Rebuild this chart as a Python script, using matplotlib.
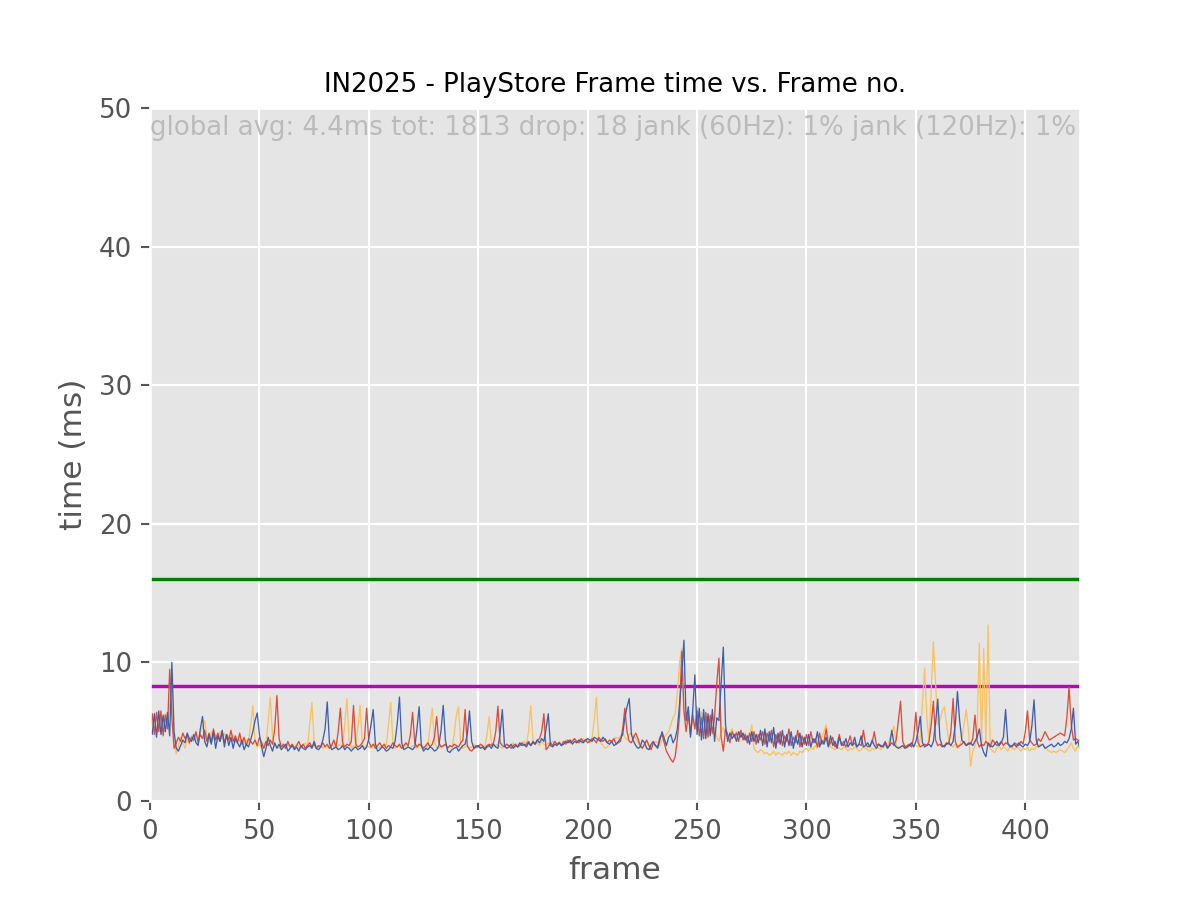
import matplotlib
matplotlib.use("Agg")
import matplotlib.pyplot as plt
import numpy as np

plt.style.use("ggplot")

title = "IN2025 - PlayStore Frame time vs. Frame no."
summary = "global avg: 4.4ms tot: 1813 drop: 18 jank (60Hz): 1% jank (120Hz): 1%"
target_60 = 16.0
target_120 = 8.33

# frame times (ms), one value per frame
red_ms = [
    5.0, 6.3, 4.8, 6.4, 5.0, 6.5, 4.7, 6.2, 5.2, 9.5, 6.0, 3.8, 4.2, 4.6, 4.3, 4.9, 4.5, 4.8, 4.2, 4.6,
    4.4, 5.0, 4.2, 4.8, 4.5, 5.1, 4.3, 4.9, 4.2, 5.2, 4.4, 4.9, 4.3, 5.0, 4.2, 4.8, 4.4, 5.1, 4.3, 4.7,
    4.2, 4.9, 4.1, 4.6, 4.0, 4.5, 4.3, 4.1, 4.4, 4.0, 4.6, 4.2, 3.8, 4.3, 4.0, 4.4, 4.1, 5.2, 7.6, 4.5,
    3.9, 4.1, 3.8, 4.3, 3.9, 4.1, 3.8, 4.0, 4.3, 3.9, 4.1, 3.8, 4.0, 4.2, 3.9, 4.1, 3.8, 4.0, 3.9, 4.2,
    3.9, 4.1, 3.8, 4.0, 4.4, 3.9, 5.0, 6.7, 4.2, 3.9, 4.1, 4.0, 4.3, 6.9, 4.1, 3.9, 4.0, 4.2, 4.5, 6.7,
    4.3, 3.9, 4.1, 3.8, 4.0, 4.2, 3.9, 4.1, 3.8, 4.0, 3.9, 4.2, 4.0, 3.9, 4.1, 3.8, 4.0, 4.2, 4.0, 4.8,
    6.4, 4.2, 3.9, 4.1, 4.0, 3.8, 4.0, 4.2, 3.9, 4.1, 4.6, 6.1, 4.2, 3.9, 4.0, 4.1, 3.8, 4.0, 3.9, 4.1,
    4.0, 3.9, 4.2, 4.4, 6.6, 4.0, 3.7, 3.6, 3.8, 4.0, 3.9, 4.1, 4.0, 3.8, 4.0, 4.1, 4.0, 4.2, 5.0, 6.85,
    4.2, 4.0, 3.9, 4.1, 4.0, 3.8, 4.0, 4.1, 3.9, 4.0, 4.2, 4.0, 4.1, 4.3, 4.0, 4.2, 4.1, 4.4, 4.5, 5.0,
    6.3, 3.7, 3.9, 4.2, 4.0, 4.3, 4.1, 4.2, 4.0, 4.3, 4.1, 4.4, 4.2, 4.3, 4.5, 4.3, 4.2, 4.5, 4.3, 4.4,
    4.2, 4.3, 4.5, 4.4, 4.2, 4.6, 4.4, 4.3, 4.5, 4.2, 4.4, 4.3, 4.5, 4.1, 4.2, 4.3, 5.2, 6.7, 5.0, 4.3,
    4.2, 4.6, 4.9, 4.5, 4.0, 3.8, 4.1, 4.4, 4.0, 3.7, 4.2, 4.0, 3.9, 4.6, 4.8, 4.2, 3.6, 3.3, 3.0, 2.8,
    3.2, 4.5, 6.2, 10.8, 6.5, 5.0, 6.3, 4.8, 6.2, 5.2, 6.5, 4.7, 6.0, 4.5, 6.4, 4.6, 6.2, 4.9, 6.0, 8.5,
    10.3, 4.6, 3.6, 5.2, 4.8, 4.2, 5.0, 4.6, 4.9, 4.3, 5.1, 4.4, 4.8, 4.2, 4.9, 4.3, 5.0, 4.1, 4.8, 4.4,
    5.0, 4.1, 4.9, 4.3, 5.1, 3.9, 4.8, 4.2, 5.0, 4.0, 4.7, 4.3, 5.2, 4.0, 4.6, 4.2, 5.1, 3.9, 4.7, 4.1,
    4.8, 4.0, 5.0, 4.2, 4.5, 3.9, 4.9, 4.1, 4.3, 5.2, 4.0, 4.2, 4.6, 3.9, 4.1, 4.8, 4.0, 4.3, 3.9, 4.2,
    4.7, 4.0, 4.2, 3.9, 4.1, 4.0, 5.1, 4.1, 3.9, 4.0, 4.2, 5.0, 4.0, 4.1, 3.9, 4.0, 4.3, 3.9, 4.0, 4.2,
    4.0, 4.4, 5.8, 7.2, 4.3, 3.9, 4.0, 4.1, 3.9, 4.6, 6.4, 4.2, 3.9, 4.0, 4.1, 4.0, 4.3, 5.5, 7.2, 4.4,
    4.0, 4.1, 3.9, 4.0, 4.2, 4.1, 5.0, 7.4, 4.3, 3.9, 4.0, 4.1, 4.3, 4.0, 4.2, 4.1, 4.5, 6.2, 4.3, 3.9,
    4.1, 4.0, 4.3, 4.1, 3.9, 4.4, 4.2, 4.0, 4.1, 4.3, 4.0, 4.2, 4.1, 4.0, 3.9, 4.2, 4.1, 4.0, 4.3, 4.1,
    5.0, 6.5, 4.4, 4.2, 4.0, 4.1, 4.5, 4.3, 4.6, 5.0, 4.7, 4.4, 4.5, 4.6, 4.7, 4.8, 4.9, 4.8, 4.7, 6.0,
    8.2, 5.5, 4.4, 4.5, 4.4, 4.3,
]

blue_ms = [
    5.2, 4.8, 6.3, 4.6, 6.5, 4.8, 6.2, 5.0, 6.4, 4.7, 10.0, 5.0, 3.8, 3.6, 4.0, 4.4, 4.2, 4.9, 4.5, 4.3,
    4.8, 4.2, 4.0, 5.2, 6.1, 4.3, 3.9, 4.8, 4.1, 5.0, 3.8, 4.7, 4.3, 5.1, 3.9, 4.8, 4.0, 4.6, 3.8, 4.5,
    4.2, 3.9, 4.4, 3.7, 4.1, 3.9, 4.4, 5.0, 5.8, 6.35, 4.8, 3.9, 3.2, 3.8, 4.6, 4.0, 3.6, 4.2, 3.8, 4.1,
    3.7, 3.9, 4.1, 3.6, 3.8, 4.0, 3.7, 3.9, 3.6, 4.0, 3.8, 3.7, 3.9, 4.0, 3.8, 4.3, 3.8, 3.7, 3.9, 4.4,
    5.2, 7.15, 4.2, 3.7, 3.8, 3.9, 3.7, 3.8, 4.0, 3.7, 3.9, 3.8, 3.6, 3.8, 3.9, 3.7, 3.8, 4.0, 3.7, 3.9,
    4.5, 5.5, 6.6, 4.1, 3.6, 3.7, 3.9, 3.8, 3.6, 3.7, 3.9, 3.8, 4.3, 5.6, 7.5, 4.2, 3.7, 3.8, 3.9, 3.8,
    3.7, 3.9, 5.2, 6.8, 4.0, 3.6, 3.8, 3.7, 3.9, 3.8, 3.6, 3.7, 4.0, 5.1, 6.9, 4.4, 3.6, 3.5, 3.7, 3.8,
    3.9, 3.6, 3.8, 4.0, 4.1, 4.8, 6.5, 4.3, 3.8, 3.9, 4.0, 3.8, 3.9, 3.7, 3.9, 4.0, 3.8, 4.1, 3.9, 3.8,
    4.9, 6.6, 4.0, 3.8, 3.9, 4.1, 3.8, 4.0, 3.9, 4.2, 4.0, 4.1, 3.9, 4.2, 4.0, 4.3, 4.1, 4.4, 4.2, 4.5,
    4.3, 5.2, 6.3, 4.0, 3.9, 4.1, 4.0, 4.2, 4.0, 4.1, 4.3, 4.2, 4.4, 4.1, 4.3, 4.2, 4.4, 4.3, 4.2, 4.4,
    4.5, 4.4, 4.3, 4.6, 4.5, 4.4, 4.3, 4.6, 4.4, 4.2, 4.1, 4.3, 4.0, 4.1, 4.3, 4.5, 4.8, 6.0, 6.8, 7.4,
    4.8, 4.3, 4.0, 3.8, 3.9, 4.4, 4.2, 3.8, 3.7, 4.1, 4.3, 4.0, 3.8, 4.4, 5.0, 4.5, 4.0, 4.6, 4.8, 4.2,
    4.5, 5.2, 7.0, 9.0, 11.6, 5.8, 6.8, 4.6, 6.5, 9.1, 4.8, 6.7, 4.4, 6.6, 4.5, 6.3, 4.7, 6.6, 4.3, 6.0,
    5.8, 8.5, 11.1, 5.5, 4.3, 4.9, 4.5, 4.8, 4.3, 5.0, 4.6, 4.9, 4.4, 4.7, 4.1, 5.0, 4.3, 4.8, 4.2, 5.1,
    4.0, 5.2, 3.9, 5.0, 4.2, 5.3, 3.8, 4.9, 4.1, 5.1, 3.9, 4.8, 4.0, 5.0, 3.8, 4.7, 4.1, 4.9, 3.9, 4.6,
    4.0, 4.8, 3.9, 4.5, 4.2, 5.0, 3.9, 4.4, 4.1, 4.6, 3.9, 4.7, 4.0, 4.3, 3.8, 4.6, 4.1, 4.0, 4.5, 3.9,
    4.2, 4.0, 4.6, 3.9, 4.1, 4.7, 3.9, 4.0, 4.2, 3.9, 4.4, 4.0, 3.8, 4.1, 4.0, 3.9, 4.2, 3.8, 4.0, 5.1,
    4.1, 3.9, 3.8, 3.9, 4.0, 3.8, 3.9, 4.0, 4.2, 3.9, 4.3, 5.0, 6.1, 4.2, 3.9, 4.0, 4.1, 3.9, 4.3, 5.6,
    7.35, 4.5, 4.0, 3.9, 4.1, 4.2, 4.0, 4.3, 5.5, 7.9, 5.8, 4.4, 4.2, 4.0, 4.1, 4.2, 4.0, 4.3, 4.6, 5.2,
    4.0, 3.5, 3.2, 4.2, 4.0, 3.9, 4.1, 4.3, 4.0, 4.2, 4.6, 6.6, 4.2, 3.9, 4.0, 4.1, 3.9, 4.2, 4.0, 3.9,
    4.1, 4.0, 4.3, 5.4, 7.3, 4.4, 3.9, 4.0, 4.1, 3.8, 3.9, 4.0, 4.1, 3.9, 4.0, 4.2, 4.0, 4.1, 4.3, 4.2,
    4.5, 5.2, 6.7, 4.1, 4.3, 3.8,
]

orange_ms = [
    5.5, 6.0, 5.0, 6.2, 5.3, 6.0, 5.1, 6.3, 5.4, 7.0, 9.0, 4.2, 3.4, 4.0, 4.6, 4.2, 3.8, 4.5, 4.1, 4.7,
    4.3, 4.9, 4.4, 5.0, 5.3, 5.8, 4.6, 4.2, 5.0, 4.5, 4.8, 4.3, 5.0, 4.4, 4.9, 4.5, 4.7, 4.3, 4.8, 4.2,
    4.6, 4.3, 4.5, 4.1, 4.4, 4.2, 5.5, 6.9, 4.3, 3.9, 4.1, 3.8, 4.2, 4.0, 5.8, 7.5, 4.6, 3.9, 4.0, 3.8,
    4.0, 3.9, 3.8, 4.1, 3.9, 4.0, 3.8, 4.1, 3.9, 3.8, 4.0, 4.2, 3.9, 5.6, 7.1, 4.3, 3.8, 3.9, 4.0, 3.8,
    4.0, 3.9, 3.8, 4.1, 3.9, 3.8, 4.0, 4.1, 3.9, 5.6, 7.4, 4.4, 3.8, 4.0, 3.9, 5.3, 6.9, 4.2, 3.8, 4.0,
    3.9, 3.8, 4.0, 4.1, 3.9, 3.8, 4.0, 3.9, 4.1, 5.5, 7.1, 4.3, 3.8, 3.9, 4.0, 3.8, 3.9, 4.1, 3.9, 3.8,
    4.0, 3.9, 3.8, 4.0, 4.1, 3.9, 3.8, 4.0, 5.4, 6.7, 4.2, 3.9, 3.8, 4.0, 3.9, 4.1, 3.8, 4.0, 3.9, 4.8,
    6.2, 6.8, 4.1, 3.8, 3.9, 4.0, 3.8, 3.9, 4.1, 3.8, 3.9, 4.0, 3.8, 3.9, 4.8, 6.1, 4.2, 3.9, 4.0, 4.1,
    3.9, 3.8, 4.0, 4.1, 3.9, 4.0, 4.2, 3.9, 4.1, 4.0, 4.2, 4.3, 4.1, 5.0, 6.9, 4.4, 4.1, 4.2, 4.0, 4.3,
    4.1, 4.0, 4.2, 4.1, 4.3, 4.2, 4.0, 4.3, 4.1, 4.2, 4.4, 4.3, 4.2, 4.4, 4.5, 4.3, 4.4, 4.2, 4.5, 4.3,
    4.4, 4.2, 4.5, 5.8, 7.5, 4.6, 4.2, 4.0, 3.8, 3.9, 4.1, 4.3, 4.4, 4.6, 4.5, 4.7, 4.9, 4.6, 4.4, 4.8,
    4.9, 4.7, 4.5, 4.2, 4.0, 3.9, 4.1, 4.3, 4.0, 3.8, 4.1, 4.3, 4.2, 4.0, 4.4, 4.6, 4.8, 5.0, 5.5, 6.0,
    6.3, 7.8, 10.0, 11.0, 6.5, 5.8, 6.2, 5.0, 6.6, 5.2, 6.8, 5.5, 6.4, 4.9, 6.3, 5.2, 6.1, 4.8, 5.3, 4.6,
    4.3, 5.0, 5.3, 4.8, 4.6, 4.9, 5.2, 4.7, 5.0, 4.8, 5.1, 4.5, 4.9, 4.2, 4.6, 5.5, 3.8, 3.6, 3.5, 3.7,
    3.6, 3.4, 3.5, 3.3, 3.4, 3.6, 3.3, 3.5, 3.4, 3.3, 3.5, 3.4, 3.6, 3.3, 3.5, 3.4, 3.3, 3.6, 3.5, 3.7,
    3.8, 3.6, 3.9, 3.7, 4.0, 3.8, 4.2, 4.6, 5.0, 5.5, 4.4, 3.9, 3.8, 3.7, 3.9, 3.8, 3.7, 3.9, 3.8, 3.6,
    3.8, 3.7, 3.9, 3.8, 3.6, 3.7, 3.9, 3.8, 3.7, 3.6, 3.8, 3.7, 3.9, 3.8, 3.7, 3.9, 4.0, 3.8, 4.5, 5.0,
    5.4, 4.0, 3.9, 3.8, 4.0, 3.9, 3.8, 4.0, 3.9, 4.1, 4.0, 3.9, 4.5, 7.0, 9.6, 6.0, 4.3, 8.0, 11.5, 8.5,
    5.5, 5.8, 6.5, 6.8, 5.6, 4.3, 4.0, 3.9, 4.1, 3.8, 4.0, 4.5, 5.5, 6.6, 5.2, 2.5, 3.6, 4.0, 5.0, 11.4,
    4.0, 11.0, 4.2, 12.7, 3.8, 3.6, 3.5, 3.8, 4.0, 3.7, 3.9, 3.8, 3.6, 3.9, 3.8, 3.7, 3.9, 3.8, 3.6, 3.8,
    3.7, 3.9, 3.6, 3.8, 3.7, 3.9, 4.0, 4.1, 4.0, 3.9, 3.7, 3.6, 3.5, 3.6, 3.5, 3.6, 3.7, 3.6, 3.5, 3.7,
    3.9, 4.2, 3.8, 3.6, 4.0, 3.8,
]

fig, ax = plt.subplots(figsize=(6.4, 4.8), dpi=187.5)

# 60Hz / 120Hz budgets
ax.axhline(target_60, color="g", lw=1.3)
ax.axhline(target_120, color="m", lw=1.3)

ax.plot(np.arange(len(orange_ms)), orange_ms, color="#FBC15E", lw=0.5)
ax.plot(np.arange(len(red_ms)), red_ms, color="#E24A33", lw=0.5)
ax.plot(np.arange(len(blue_ms)), blue_ms, color="#3F5FAE", lw=0.5)

ax.set_xlim(0, 425)
ax.set_ylim(0, 50)
ax.set_xticks(np.arange(0, 401, 50))
ax.set_yticks(np.arange(0, 51, 10))

ax.text(0, 49.5, summary, ha="left", va="top", fontsize=10, color="#bbbbbb")

ax.set_title(title, fontsize=10)
ax.set_xlabel("frame")
ax.set_ylabel("time (ms)")

fig.savefig("out.png", dpi=187.5)
